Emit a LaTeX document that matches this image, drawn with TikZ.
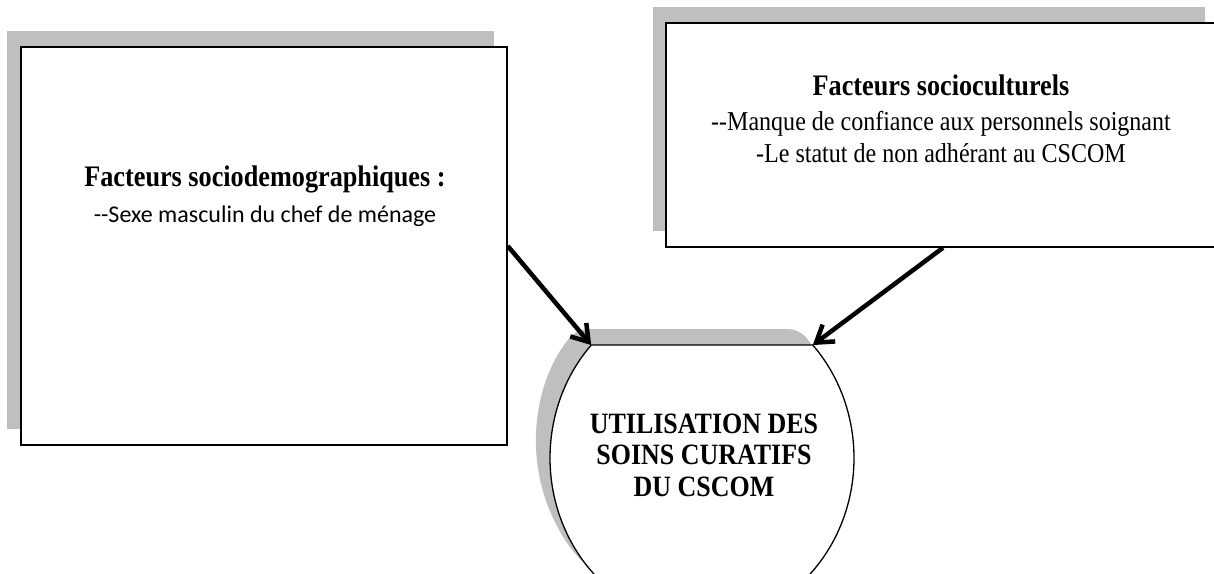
\documentclass[tikz,border=0pt]{standalone}
\usepackage{fontspec}
\newfontfamily\serifc[FakeStretch=0.88]{Liberation Serif}
\newfontfamily\sansc{Carlito}
\usetikzlibrary{arrows.meta}
\definecolor{shadowgray}{RGB}{191,191,191}
\begin{document}
\begin{tikzpicture}[x=1pt,y=-1pt,
  box/.style={draw=black, line width=1.5pt, fill=white, rectangle, inner sep=0pt},
  shadowbox/.style={fill=shadowgray, rectangle, inner sep=0pt},
  conn/.style={line width=4.5pt, -{Straight Barb[length=16pt,width=21pt,line width=4.5pt]}, line join=round},
  btitle/.style={anchor=base, align=center},
]
\useasboundingbox (0,0) rectangle (1214,573);
\clip (0,0) rectangle (1214,573);

% left box
\node[shadowbox, minimum width=487pt, minimum height=398pt] (lshadow) at (250.5,230) {};
\node[box, minimum width=486pt, minimum height=398pt] (lbox) at (264,246) {};
\node[btitle, font=\sansc\fontsize{24}{36}\selectfont] (ltxt) at (265,222)
  {{\serifc\bfseries\fontsize{29.8}{36}\selectfont Facteurs sociodemographiques :}\\
   -\kern0pt-Sexe masculin du chef de ménage};

% right box
\node[shadowbox, minimum width=552pt, minimum height=224pt] (rshadow) at (929,119) {};
\node[box, minimum width=554pt, minimum height=224pt] (rbox) at (943,135) {};
\node[btitle, font=\serifc\fontsize{27.3}{32}\selectfont] (rtxt) at (941,162)
  {{\bfseries\fontsize{29.8}{32}\selectfont Facteurs socioculturels}\\[3pt]
   -\kern0pt-Manque de confiance aux personnels soignant\\
   -Le statut de non adhérant au CSCOM};

% bottom shape
\coordinate (ctr) at (702,458);
\fill[shadowgray, rounded corners=10pt]
  ([shift={(-14,-16)}]ctr) ++(223.2:152 and 165) arc[start angle=223.2, end angle=130, x radius=152, y radius=165]
  -- ++(195.4,0) arc[start angle=50, end angle=-43.2, x radius=152, y radius=165] -- cycle;
\draw[fill=white, line width=1.3pt]
  (ctr) ++(223.2:152 and 165) coordinate (tl)
  arc[start angle=223.2, end angle=130, x radius=152, y radius=165]
  -- ++(195.4,0) arc[start angle=50, end angle=-43.2, x radius=152, y radius=165] coordinate (tr) -- cycle;
\node[btitle, font=\serifc\bfseries\fontsize{29.5}{31.5}\selectfont] (use) at (704,496)
  {UTILISATION DES\\ SOINS CURATIFS\\ DU CSCOM};

% connectors
\draw[conn] (lbox.east) -- (tl);
\draw[conn] (rbox.south) -- (tr);
\end{tikzpicture}
\end{document}
